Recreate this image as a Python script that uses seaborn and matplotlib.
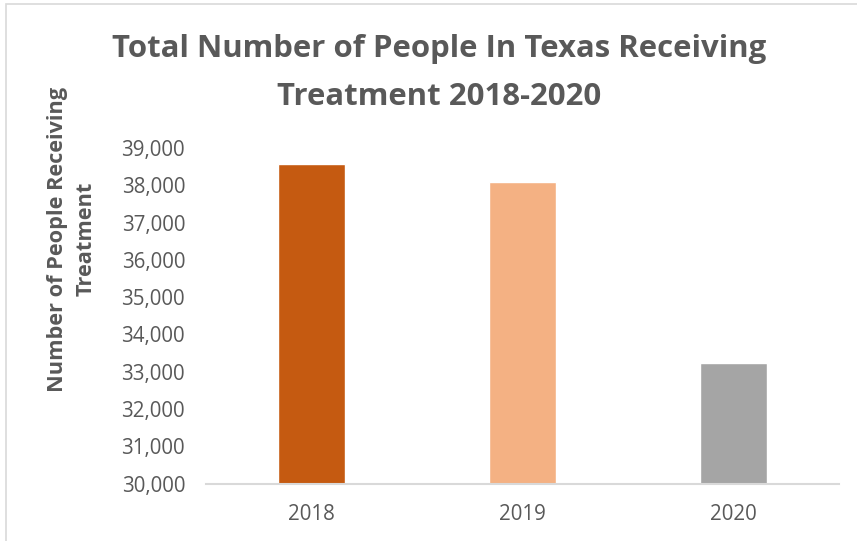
import matplotlib
matplotlib.use("Agg")
import matplotlib.pyplot as plt
import matplotlib.ticker as mticker
from matplotlib.patches import Rectangle
import seaborn as sns
import pandas as pd

years = ["2018", "2019", "2020"]
people = [38570, 38090, 33230]
bar_colors = ["#C55A11", "#F4B183", "#A5A5A5"]
y_ticks = [30000, 31000, 32000, 33000, 34000, 35000, 36000, 37000, 38000, 39000]

title = "Total Number of People In Texas Receiving\nTreatment 2018-2020"
y_label = "Number of People Receiving\nTreatment"

sns.set_theme(style="white")
plt.rcParams["font.family"] = ["Open Sans", "DejaVu Sans"]
text_gray = "#595959"

df = pd.DataFrame({"year": years, "people": people})

fig = plt.figure(figsize=(8.57, 5.41), dpi=100)
fig.patch.set_facecolor("white")
W, H = 857, 541
ax = fig.add_axes([206 / W, 1 - 483.5 / H, (839 - 206) / W, (483.5 - 148) / H])

sns.barplot(data=df, x="year", y="people", hue="year", palette=bar_colors,
            width=0.318, legend=False, ax=ax, saturation=1)

ax.set_ylim(y_ticks[0], y_ticks[-1])
ax.set_xlim(-0.5, len(years) - 0.5)
ax.set_yticks(y_ticks)
ax.yaxis.set_major_formatter(mticker.FuncFormatter(lambda v, p: f"{int(v):,}"))
ax.set_xlabel("")
ax.set_ylabel("")
ax.tick_params(axis="y", length=0, pad=15, labelsize=14.8, labelcolor=text_gray)
ax.tick_params(axis="x", length=0, pad=15, labelsize=14.8, labelcolor=text_gray)
for side in ["top", "right", "left"]:
    ax.spines[side].set_visible(False)
ax.spines["bottom"].set_color("#D9D9D9")
ax.spines["bottom"].set_linewidth(1.5)
ax.grid(False)

fig.text(439 / W, 1 - 73 / H, title, ha="center", va="center", fontsize=22.4,
         fontweight="bold", color=text_gray, linespacing=1.75)
fig.text(72 / W, 1 - 239 / H, y_label, ha="center", va="center", rotation=90,
         fontsize=15.7, fontweight="bold", color=text_gray, linespacing=1.5)

# chart frame
fig.patches.append(Rectangle((6 / W, -0.1), 1.2, 1 - 4 / H + 0.1, transform=fig.transFigure,
                             fill=False, edgecolor="#D9D9D9", linewidth=1.2))

fig.savefig("out.png", dpi=100)
